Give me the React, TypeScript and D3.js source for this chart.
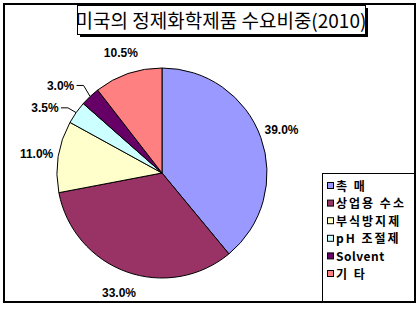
import React from "react";
import * as d3 from "d3";

const categories = ["촉 매", "상업용 수소", "부식방지제", "pH 조절제", "Solvent", "기 타"];
const values = [39.0, 33.0, 11.0, 3.5, 3.0, 10.5];
const colors = ["#9999FF", "#993366", "#FFFFCC", "#CCFFFF", "#660066", "#FF8080"];
const title = "미국의 정제화학제품 수요비중(2010)";

export default function App() {
  const W = 420, H = 310;
  const cx = 162, cy = 173, r = 105;
  const pie = d3.pie<number>().sort(null).value((d) => d)(values);
  const arc = d3.arc<d3.PieArcDatum<number>>().innerRadius(0).outerRadius(r);
  const fmt = (v: number) => v.toFixed(1) + "%";
  const legendY = d3.scaleLinear().domain([0, categories.length - 1]).range([186, 274]);

  return (
    <svg width={W} height={H} style={{ position: "absolute", left: 0, top: 0 }}>
      <rect x={0} y={0} width={W} height={H} fill="#fff" />
      <rect x={4} y={4} width={411} height={298} fill="#fff" stroke="#000" strokeWidth={2} />
      <rect x={80} y={8} width={288} height={29} fill="#000" />
      <rect x={77.5} y={5.5} width={288} height={29} fill="#fff" stroke="#000" strokeWidth={1} />
      <text x={221} y={28} textAnchor="middle" fontFamily="'Noto Sans CJK KR', sans-serif" fontSize={19} fill="#000">
        {title}
      </text>
      <g transform={`translate(${cx},${cy})`}>
        {pie.map((d, i) => (
          <path key={i} d={arc(d) || ""} fill={colors[i]} stroke="#000" strokeWidth={1} />
        ))}
      </g>
      {pie.map((d, i) => {
        const mid = (d.startAngle + d.endAngle) / 2;
        const small = values[i] < 5;
        const a = small ? mid - (6 * Math.PI) / 180 : mid;
        const lr = small ? 134 : 127;
        const lx = cx + lr * Math.sin(a);
        const ly = cy - lr * Math.cos(a);
        const ex = cx + r * Math.sin(mid);
        const ey = cy - r * Math.cos(mid);
        const hw = 14;
        return (
          <g key={i}>
            {small && (
              <polyline
                points={`${ex},${ey} ${lx + hw + 9},${ly} ${lx + hw + 2},${ly}`}
                fill="none"
                stroke="#000"
                strokeWidth={1}
              />
            )}
            <text x={lx} y={ly + 4.5} textAnchor="middle" fontFamily="'Liberation Sans', Arial, sans-serif" fontWeight="bold" fontSize={12} fill="#000">
              {fmt(values[i])}
            </text>
          </g>
        );
      })}
      <rect x={322.5} y={173.5} width={92} height={128} fill="#fff" stroke="#000" strokeWidth={1} />
      {categories.map((c, i) => (
        <g key={c}>
          <rect x={327.5} y={legendY(i) - 3.5} width={6} height={6} fill={colors[i]} stroke="#000" strokeWidth={1} />
          <text x={336} y={legendY(i) + 4.5} fontFamily="'Noto Sans CJK KR', sans-serif" fontWeight="bold" fontSize={12} letterSpacing={/^[A-Za-z]+$/.test(c) ? 0.5 : 2} fill="#000">
            {c}
          </text>
        </g>
      ))}
      <rect x={4} y={4} width={411} height={298} fill="none" stroke="#000" strokeWidth={2} />
    </svg>
  );
}
